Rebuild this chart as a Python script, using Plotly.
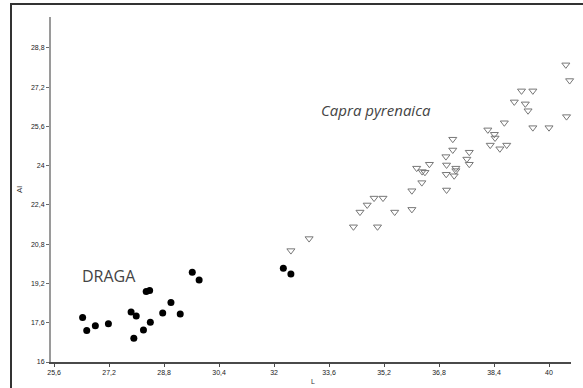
import plotly.graph_objects as go

# DRAGA (filled circles)
draga_x = [26.43, 26.55, 26.80, 27.18, 27.84, 27.99, 27.92, 28.20, 28.40, 28.28,
           28.38, 28.76, 29.00, 29.27, 29.62, 29.82, 32.27, 32.49]
draga_y = [17.81, 17.28, 17.48, 17.56, 18.04, 17.87, 16.97, 17.30, 17.62, 18.87,
           18.91, 18.00, 18.42, 17.96, 19.66, 19.34, 19.82, 19.59]

# Capra pyrenaica (open down-triangles)
capra_x = [32.49, 33.02, 34.31, 35.01, 34.50, 34.71, 34.91, 35.17, 35.51, 36.01,
           36.01, 36.30, 36.15, 36.31, 36.39, 36.52, 37.01, 37.02, 37.02, 37.00,
           37.20, 37.20, 37.24, 37.29, 37.29, 37.61, 37.68, 37.68, 38.22, 38.41,
           38.43, 38.29, 38.57, 38.77, 38.70, 38.99, 39.20, 39.53, 39.31, 39.39,
           39.53, 40.00, 40.49, 40.60, 40.51]
capra_y = [20.54, 21.03, 21.51, 21.51, 22.11, 22.40, 22.68, 22.68, 22.11, 22.22,
           22.98, 23.31, 23.90, 23.76, 23.73, 24.06, 23.65, 24.03, 23.01, 24.37,
           24.64, 25.08, 23.59, 23.80, 23.90, 24.27, 24.55, 24.06, 25.46, 25.28,
           25.13, 24.84, 24.69, 24.84, 25.75, 26.60, 27.05, 27.05, 26.52, 26.24,
           25.55, 25.55, 28.11, 27.47, 26.00]

x_ticks = [25.6, 27.2, 28.8, 30.4, 32.0, 33.6, 35.2, 36.8, 38.4, 40.0]
x_ticktext = ["25,6", "27,2", "28,8", "30,4", "32", "33,6", "35,2", "36,8", "38,4", "40"]
y_ticks = [16.0, 17.6, 19.2, 20.8, 22.4, 24.0, 25.6, 27.2, 28.8]
y_ticktext = ["16", "17,6", "19,2", "20,8", "22,4", "24", "25,6", "27,2", "28,8"]

W, H = 583, 388
L, R, T, B = 51, 12, 17, 26
pw, ph = W - L - R, H - T - B

def px(xp):
    return (xp - L) / pw

def py(yp):
    return (H - B - yp) / ph

fig = go.Figure()
fig.add_trace(go.Scatter(
    x=capra_x, y=capra_y, mode="markers", name="Capra pyrenaica",
    marker=dict(symbol="triangle-down-open", size=7, color="#777777",
                line=dict(width=1, color="#777777")),
    cliponaxis=False))
fig.add_trace(go.Scatter(
    x=draga_x, y=draga_y, mode="markers", name="DRAGA",
    marker=dict(symbol="circle", size=7, color="#000000"),
    cliponaxis=False))

tick_font = dict(size=7, color="#222222", family="Liberation Sans")

fig.update_layout(
    width=W, height=H,
    margin=dict(l=L, r=R, t=T, b=B),
    plot_bgcolor="white", paper_bgcolor="white",
    showlegend=False,
    font=dict(family="Liberation Sans", size=7, color="#222222"),
    xaxis=dict(range=[25.51, 40.64], tickvals=x_ticks, ticktext=x_ticktext,
               showgrid=False, zeroline=False, showline=True,
               linecolor="#4a4a4a", linewidth=2,
               ticks="outside", ticklen=3, tickcolor="#4a4a4a", tickwidth=1,
               tickfont=tick_font),
    yaxis=dict(range=[16, 30.06], tickvals=y_ticks, ticktext=y_ticktext,
               showgrid=False, zeroline=False, showline=True,
               linecolor="#9a9a9a", linewidth=2,
               ticks="outside", ticklen=3, tickcolor="#6a6a6a", tickwidth=1,
               tickfont=tick_font),
)

# outer frame
fig.add_shape(type="rect", xref="paper", yref="paper",
              x0=px(11), x1=px(584), y0=py(392), y1=py(4),
              line=dict(color="#333", width=2), layer="above")

fig.add_annotation(text="DRAGA", xref="paper", yref="paper",
                   x=px(80), y=py(276), xanchor="left", yanchor="middle",
                   showarrow=False,
                   font=dict(family="Open Sans", size=16, color="#444"))
fig.add_annotation(text="<i>Capra pyrenaica</i>", xref="paper", yref="paper",
                   x=px(376), y=py(110), xanchor="center", yanchor="middle",
                   showarrow=False,
                   font=dict(family="Open Sans", size=15, color="#444"))
fig.add_annotation(text="Al", xref="paper", yref="paper",
                   x=px(20), y=py(190), xanchor="center", yanchor="middle",
                   textangle=-90, showarrow=False,
                   font=dict(family="Liberation Sans", size=8, color="#333"))
fig.add_annotation(text="L", xref="paper", yref="paper",
                   x=px(313), y=py(376), xanchor="center", yanchor="top",
                   showarrow=False,
                   font=dict(family="Liberation Sans", size=7, color="#333"))

fig.write_html("out.html")
